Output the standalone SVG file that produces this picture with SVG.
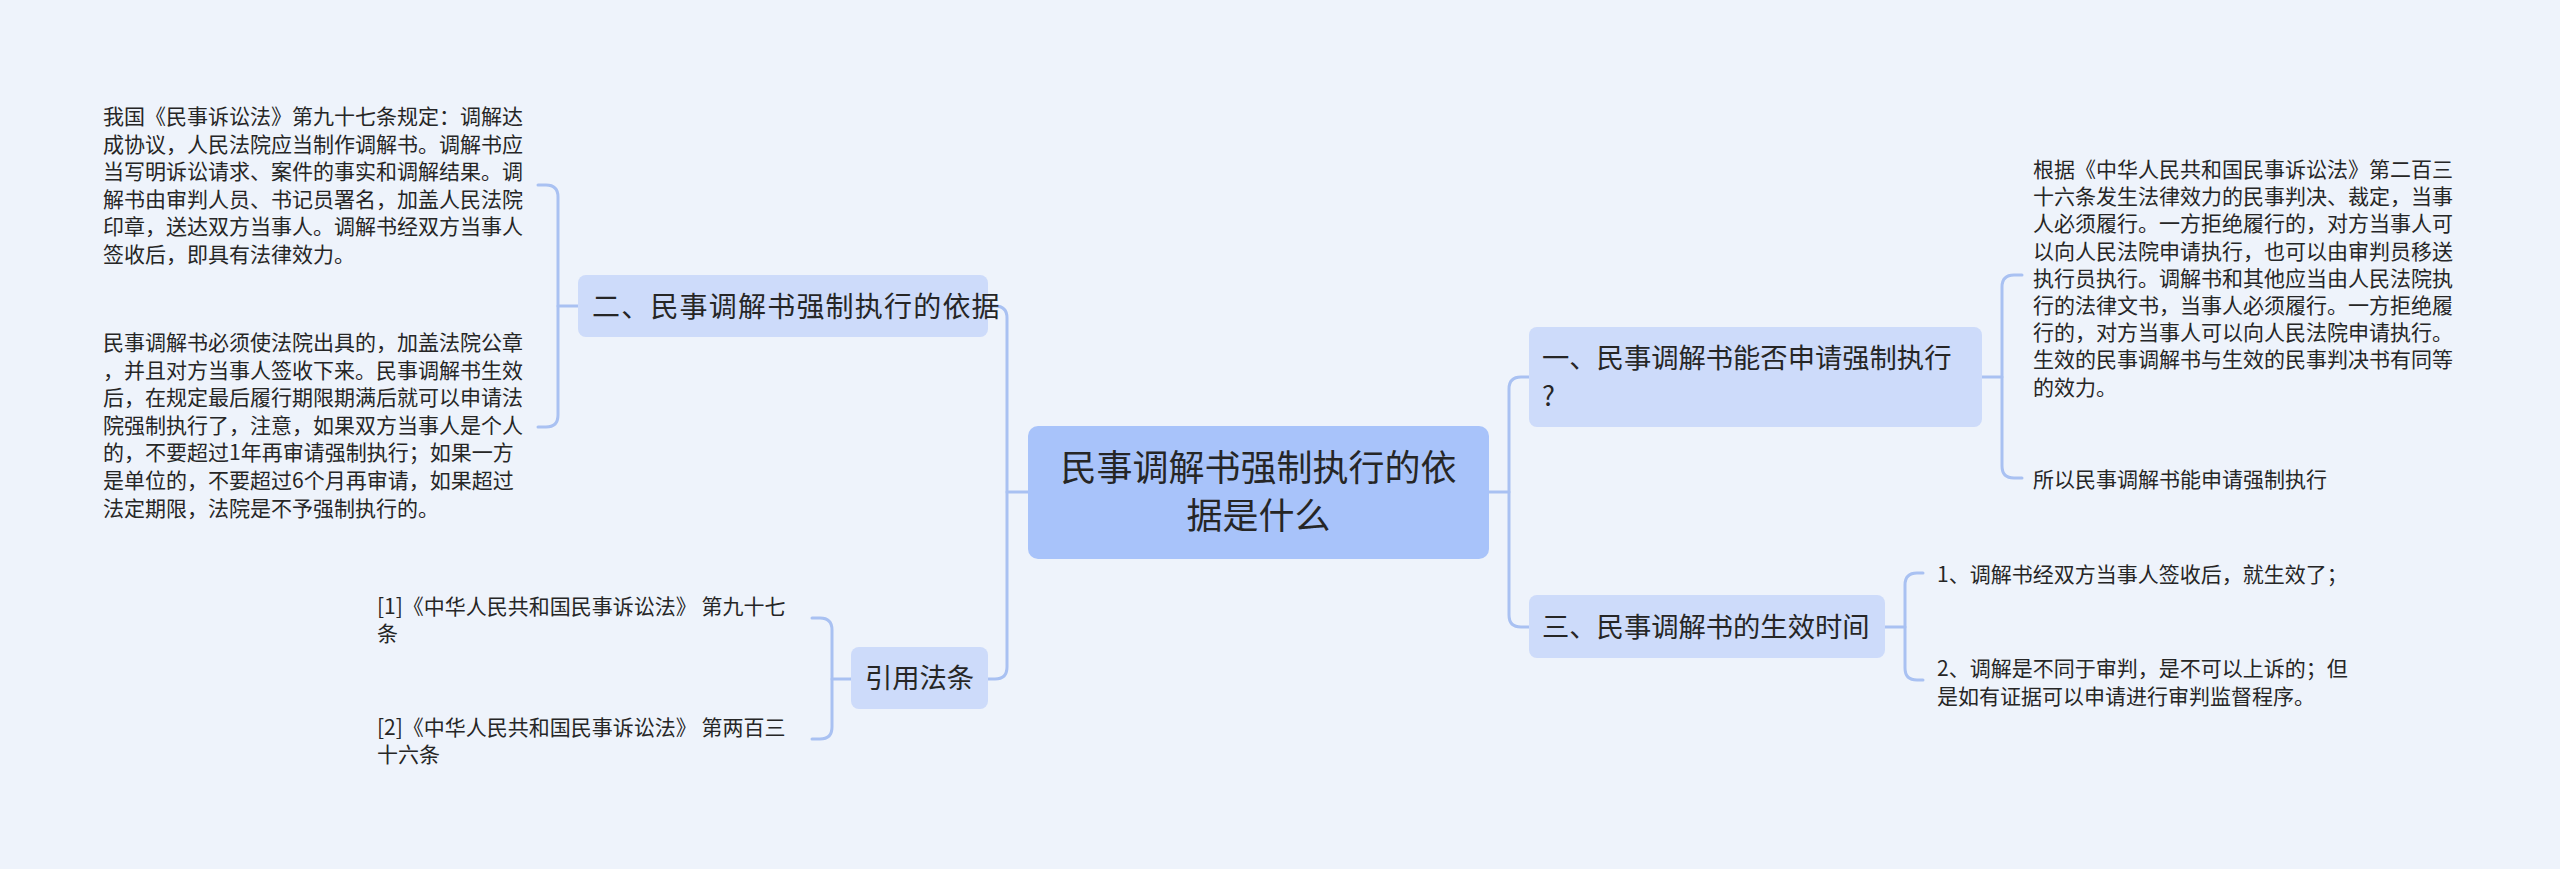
<svg xmlns="http://www.w3.org/2000/svg" width="2560" height="869" viewBox="0 0 2560 869">
<style>
text{font-family:"Noto Sans CJK SC","Noto Sans",sans-serif;fill:#262626}
.leaf{font-size:21px}
.sub{font-size:27.3px}
.root{font-size:36px}
.subbox{fill:#cddbfa}
.rootbox{fill:#a8c3fa}
.conn path{fill:none;stroke:#a9c1f2;stroke-width:3;stroke-linecap:round}
</style>
<rect x="0" y="0" width="2560" height="869" fill="#eef3fb"/>
<g class="conn" id="connectors">
<path d="M1028 492 H1007"/>
<path d="M988 306 H995 Q1007 306 1007 318 V667 Q1007 679 995 679 H988"/>
<path d="M1489 492 H1509"/>
<path d="M1529 377 H1521 Q1509 377 1509 389 V615 Q1509 627 1521 627 H1529"/>
<path d="M1982 377 H2002"/>
<path d="M2022 275 H2014 Q2002 275 2002 287 V466 Q2002 478 2014 478 H2022"/>
<path d="M1885 627 H1905"/>
<path d="M1923 573 H1917 Q1905 573 1905 585 V668 Q1905 680 1917 680 H1923"/>
<path d="M578 306 H558"/>
<path d="M538 185 H546 Q558 185 558 197 V415 Q558 427 546 427 H538"/>
<path d="M851 679 H832"/>
<path d="M812 618 H820 Q832 618 832 630 V727 Q832 739 820 739 H812"/>
</g>
<g id="root">
<rect class="rootbox" x="1028" y="426" width="461" height="133" rx="10"/>
<text class="root" text-anchor="middle"><tspan x="1258.5" y="481">民事调解书强制执行的依</tspan><tspan x="1258.5" y="529">据是什么</tspan></text>
</g>
<g id="node-2">
<rect class="subbox" x="578" y="275" width="410" height="62" rx="8"/>
<text class="sub" x="592" y="317" style="font-size:28px;letter-spacing:1.2px">二、民事调解书强制执行的依据</text>
</g>
<g id="node-cite">
<rect class="subbox" x="851" y="647" width="137" height="62" rx="8"/>
<text class="sub" x="919.5" y="688" text-anchor="middle">引用法条</text>
</g>
<g id="node-1">
<rect class="subbox" x="1529" y="327" width="453" height="100" rx="8"/>
<text class="sub"><tspan x="1542" y="368">一、民事调解书能否申请强制执行</tspan><tspan x="1542" y="406">?</tspan></text>
</g>
<g id="node-3">
<rect class="subbox" x="1529" y="595" width="356" height="63" rx="8"/>
<text class="sub" x="1542" y="637">三、民事调解书的生效时间</text>
</g>
<g id="leaf-2a">
<text class="leaf"><tspan x="103" y="124">我国《民事诉讼法》第九十七条规定：调解达</tspan><tspan x="103" y="151.6">成协议，人民法院应当制作调解书。调解书应</tspan><tspan x="103" y="179.2">当写明诉讼请求、案件的事实和调解结果。调</tspan><tspan x="103" y="206.8">解书由审判人员、书记员署名，加盖人民法院</tspan><tspan x="103" y="234.4">印章，送达双方当事人。调解书经双方当事人</tspan><tspan x="103" y="262">签收后，即具有法律效力。</tspan></text>
</g>
<g id="leaf-2b">
<text class="leaf"><tspan x="103" y="350">民事调解书必须使法院出具的，加盖法院公章</tspan><tspan x="103" y="377.6">，并且对方当事人签收下来。民事调解书生效</tspan><tspan x="103" y="405.2">后，在规定最后履行期限期满后就可以申请法</tspan><tspan x="103" y="432.8">院强制执行了，注意，如果双方当事人是个人</tspan><tspan x="103" y="460.4">的，不要超过1年再审请强制执行；如果一方</tspan><tspan x="103" y="488">是单位的，不要超过6个月再审请，如果超过</tspan><tspan x="103" y="515.6">法定期限，法院是不予强制执行的。</tspan></text>
</g>
<g id="leaf-cite-1">
<text class="leaf"><tspan x="377" y="614">[1]《中华人民共和国民事诉讼法》 第九十七</tspan><tspan x="377" y="641">条</tspan></text>
</g>
<g id="leaf-cite-2">
<text class="leaf"><tspan x="377" y="735">[2]《中华人民共和国民事诉讼法》 第两百三</tspan><tspan x="377" y="762">十六条</tspan></text>
</g>
<g id="leaf-1a">
<text class="leaf"><tspan x="2033" y="177">根据《中华人民共和国民事诉讼法》第二百三</tspan><tspan x="2033" y="204.2">十六条发生法律效力的民事判决、裁定，当事</tspan><tspan x="2033" y="231.4">人必须履行。一方拒绝履行的，对方当事人可</tspan><tspan x="2033" y="258.6">以向人民法院申请执行，也可以由审判员移送</tspan><tspan x="2033" y="285.8">执行员执行。调解书和其他应当由人民法院执</tspan><tspan x="2033" y="313">行的法律文书，当事人必须履行。一方拒绝履</tspan><tspan x="2033" y="340.2">行的，对方当事人可以向人民法院申请执行。</tspan><tspan x="2033" y="367.4">生效的民事调解书与生效的民事判决书有同等</tspan><tspan x="2033" y="394.6">的效力。</tspan></text>
</g>
<g id="leaf-1b">
<text class="leaf" x="2033" y="487">所以民事调解书能申请强制执行</text>
</g>
<g id="leaf-3a">
<text class="leaf" x="1937" y="582">1、调解书经双方当事人签收后，就生效了；</text>
</g>
<g id="leaf-3b">
<text class="leaf"><tspan x="1937" y="676">2、调解是不同于审判，是不可以上诉的；但</tspan><tspan x="1937" y="704">是如有证据可以申请进行审判监督程序。</tspan></text>
</g>
</svg>
